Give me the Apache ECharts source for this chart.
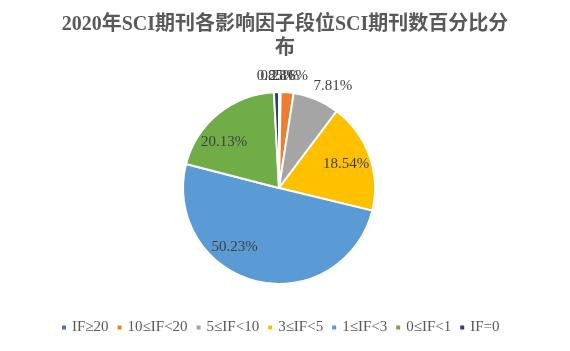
<!DOCTYPE html>
<html>
<head>
<meta charset="utf-8">
<script src="https://cdn.jsdelivr.net/npm/echarts@6/dist/echarts.min.js"></script>
<style>
  html, body { margin: 0; padding: 0; background: #fff; }
  #myChart { width: 570px; height: 351px; }
</style>
</head>
<body>
<div id="myChart"></div>
<script>
// 数据
var categories = ["IF≥20", "10≤IF<20", "5≤IF<10", "3≤IF<5", "1≤IF<3", "0≤IF<1", "IF=0"];
var percents = [0.28, 2.16, 7.81, 18.54, 50.23, 20.13, 0.85];
var colors = ["#4472C4", "#ED7D31", "#A5A5A5", "#FFC000", "#5B9BD5", "#70AD47", "#264478"];
// 标签位置：离圆心的距离（半径的倍数）和角度偏移（度）
var labelDist = [1.1, 1.1, 1.13, 0.7, 0.72, 0.7, 1.1];
var labelTurn = [0, 0, 5, 0, 23, -11, 0];

var serif = "'Liberation Serif', 'Times New Roman', 'Noto Sans CJK SC', serif";
var cx = 279, cy = 188, r = 96;

var myChart = echarts.init(document.getElementById("myChart"));

var option = {
  animation: false,
  title: {
    text: "2020年SCI期刊各影响因子段位SCI期刊数百分比分\n布",
    left: "center",
    top: 8,
    textStyle: {
      fontFamily: serif,
      fontSize: 20,
      fontWeight: "bold",
      color: "#595959",
      lineHeight: 24,
    },
  },
  legend: {
    bottom: 11,
    left: 55,
    itemWidth: 6,
    itemHeight: 6,
    itemGap: 7,
    icon: "rect",
    textStyle: { fontFamily: serif, fontSize: 15, color: "#595959" },
    data: categories,
  },
  series: [
    {
      type: "pie",
      center: [cx, cy],
      radius: r,
      startAngle: 90,
      avoidLabelOverlap: false,
      itemStyle: { borderColor: "#fff", borderWidth: 2 },
      label: {
        position: "inside",
        fontFamily: serif,
        fontSize: 15,
        color: "#404040",
        formatter: function (p) { return p.value.toFixed(2) + "%"; },
      },
      labelLine: { show: false },
      labelLayout: function (p) {
        var i = p.dataIndex;
        var f = labelDist[i] / 0.5;
        var a = labelTurn[i] * Math.PI / 180;
        var vx = p.labelRect.x + p.labelRect.width / 2 - cx;
        var vy = p.labelRect.y + p.labelRect.height / 2 - cy;
        // 顺时针旋转 a
        var rx = vx * Math.cos(a) - vy * Math.sin(a);
        var ry = vx * Math.sin(a) + vy * Math.cos(a);
        return { dx: rx * f - vx, dy: ry * f - vy };
      },
      data: categories.map(function (c, i) {
        return { name: c, value: percents[i], itemStyle: { color: colors[i] } };
      }),
    },
  ],
};

myChart.setOption(option);
</script>
</body>
</html>
